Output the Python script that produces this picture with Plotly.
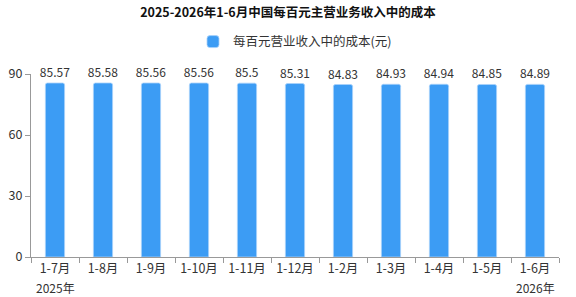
import plotly.graph_objects as go

categories = ["1-7月", "1-8月", "1-9月", "1-10月", "1-11月", "1-12月",
              "1-2月", "1-3月", "1-4月", "1-5月", "1-6月"]
year_labels = {0: "2025年", 10: "2026年"}
values = [85.57, 85.58, 85.56, 85.56, 85.5, 85.31, 84.83, 84.93, 84.94, 84.85, 84.89]
labels = ["85.57", "85.58", "85.56", "85.56", "85.5", "85.31", "84.83", "84.93", "84.94", "84.85", "84.89"]
series_name = "每百元营业收入中的成本(元)"
title = "2025-2026年1-6月中国每百元主营业务收入中的成本"

font = "Noto Sans CJK SC, Noto Sans, sans-serif"

fig = go.Figure()
fig.add_trace(go.Bar(
    x=list(range(len(categories))), y=values, name=series_name,
    text=labels, textposition="outside", cliponaxis=False, constraintext="none",
    textangle=0,
    textfont=dict(size=12, color="#333333", family=font),
    marker=dict(color="#3c9cf4", line=dict(color="#a9d2fa", width=0.8)),
    width=0.4,
))
for idx, yl in year_labels.items():
    fig.add_annotation(x=idx, xref="x", y=0, yref="paper", yshift=-30,
                       text=yl, showarrow=False, yanchor="middle",
                       font=dict(size=12, color="#333333", family=font))
fig.update_layout(
    width=576, height=297,
    margin=dict(l=31, r=17, t=74, b=40),
    paper_bgcolor="white", plot_bgcolor="white",
    barcornerradius=2,
    title=dict(text="<b>" + title + "</b>", x=0.5, xanchor="center", y=0.956, yanchor="middle",
               font=dict(size=12.5, color="#111111", family=font)),
    showlegend=True,
    legend=dict(orientation="h", x=0.5, xanchor="center", y=1.175, yanchor="middle",
                font=dict(size=12.5, color="#333333", family=font)),
    font=dict(family=font, size=12, color="#333333"),
)
fig.update_xaxes(
    tickmode="array", tickvals=list(range(len(categories))), ticktext=categories,
    range=[-0.5, len(categories) - 0.5], automargin=False,
    showline=True, linecolor="#999999", linewidth=1,
    ticks="", showgrid=False, tickfont=dict(size=12.5, color="#333333"),
)
fig.update_xaxes(minor=dict(tickmode="array", tickvals=[i - 0.5 for i in range(len(categories) + 1)],
                            ticks="outside", ticklen=5, tickcolor="#999999", showgrid=False))
fig.update_yaxes(
    range=[0, 90], tickvals=[0, 30, 60, 90], automargin=False,
    showline=True, linecolor="#999999", linewidth=1,
    ticks="outside", ticklen=5, tickcolor="#999999",
    showgrid=False, zeroline=False, tickfont=dict(size=12.5, color="#333333"),
)
fig.write_html("out.html")
